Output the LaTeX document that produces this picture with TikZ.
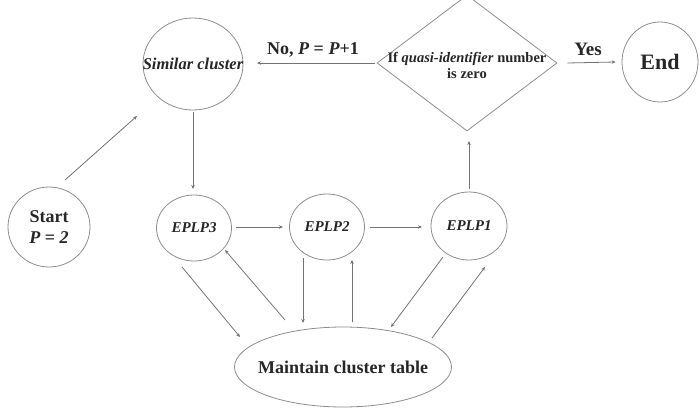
\documentclass[tikz,border=0pt]{standalone}
\usepackage{fontspec}
\setmainfont{Liberation Serif}
\usetikzlibrary{shapes.geometric,arrows.meta,calc}
\tikzset{
  shp/.style={draw=black!45, line width=0.8pt, ellipse, inner sep=0pt},
  txt/.style={text=black!85, inner sep=0pt, align=center},
  conn/.style={draw=black!55, line width=0.8pt, -{Stealth[length=4pt,width=3.5pt]}}
}
\begin{document}
\begin{tikzpicture}[x=1pt,y=-1pt]
\useasboundingbox (0,0) rectangle (699,415);
\clip (0,0) rectangle (699,415);
% shapes
\node[shp, minimum width=100pt, minimum height=92pt] (sim) at (193,64) {};
\node[diamond, draw=black!45, line width=0.8pt, minimum width=180pt, minimum height=136pt, inner sep=0pt] (dia) at (467,63) {};
\node[shp, minimum width=76pt, minimum height=80pt] (end) at (660,62) {};
\node[shp, minimum width=82pt, minimum height=80pt] (start) at (49,227) {};
\node[shp, minimum width=75pt, minimum height=66pt] (e3) at (194,228) {};
\node[shp, minimum width=75pt, minimum height=66pt] (e2) at (327,227) {};
\node[shp, minimum width=76pt, minimum height=68pt] (e1) at (469,226) {};
\node[shp, minimum width=217pt, minimum height=80pt] (mt) at (343,367) {};
% texts
\node[txt, font=\bfseries\itshape\fontsize{16.5}{18}\selectfont] (simt) at (sim.center) {Similar cluster};
\node[txt, font=\bfseries\fontsize{14.5}{16}\selectfont] (diat) at (467,65) {If \textit{quasi-identifier} number\\is zero};
\node[txt, font=\bfseries\fontsize{22}{24}\selectfont] (endt) at (end.center) {End};
\node[txt, font=\bfseries\fontsize{18}{21}\selectfont] (startt) at (start.center) {Start\\\textit{P} = \textit{2}};
\node[txt, font=\bfseries\itshape\fontsize{15}{17}\selectfont] (e3t) at (e3.center) {EPLP3};
\node[txt, font=\bfseries\itshape\fontsize{15}{17}\selectfont] (e2t) at (e2.center) {EPLP2};
\node[txt, font=\bfseries\itshape\fontsize{15}{17}\selectfont] (e1t) at (e1.center) {EPLP1};
\node[txt, font=\bfseries\fontsize{18}{20}\selectfont] (mtt) at (mt.center) {Maintain cluster table};
% coordinates for free ends
\coordinate (s0) at (65,180);
\coordinate (s1) at (137,116);
% connectors
\draw[conn] ($(dia.west)+(-2,0)$) -- (257,63);
\node[txt, font=\bfseries\fontsize{18}{20}\selectfont] (nolbl) at (313,50) {No, \textit{P} = \textit{P}+1};
\draw[conn] ($(dia.east)+(10,0)$) -- ($(end.west)+(-6,0)$);
\node[txt, font=\bfseries\fontsize{19}{21}\selectfont] (yeslbl) at (588,49) {Yes};
\draw[conn] (s0) -- (s1);
\draw[conn] (193,112) -- (193,189);
\draw[conn] (236,227) -- (283,227);
\draw[conn] (370,227) -- (422,227);
\draw[conn] (469,189) -- (469,141);
\draw[conn] (182,267) -- (240,337);
\draw[conn] (285,320) -- (225,250);
\draw[conn] (303,258) -- (303,323);
\draw[conn] (352,322) -- (352,260);
\draw[conn] (443,257) -- (391,327);
\draw[conn] (432,338) -- (485,267);
\end{tikzpicture}
\end{document}
